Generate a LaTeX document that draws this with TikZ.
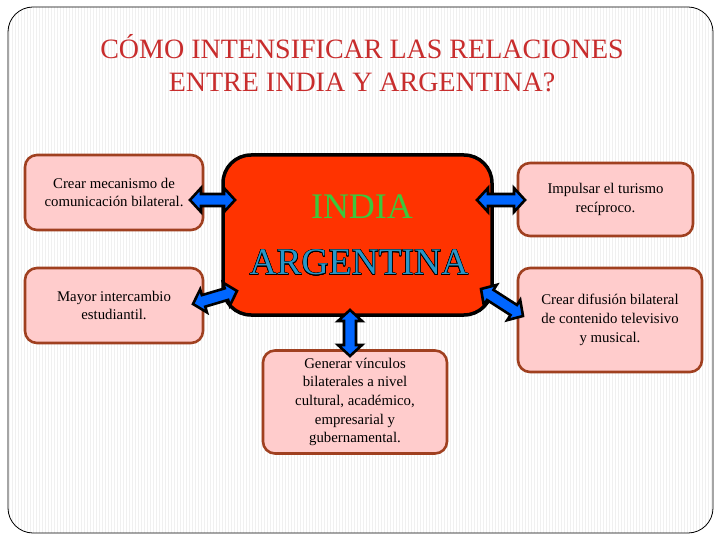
\documentclass[tikz,border=0pt]{standalone}
\usepackage{fontspec}
\setmainfont{Liberation Serif}
\usepackage{contour}
\contourlength{0.5pt}
\usetikzlibrary{calc}
\definecolor{titlered}{RGB}{200,45,45}
\definecolor{centerfill}{RGB}{255,51,0}
\definecolor{indiagreen}{RGB}{60,200,60}
\definecolor{argblue}{RGB}{40,150,200}
\definecolor{boxfill}{RGB}{255,204,204}
\definecolor{boxedge}{RGB}{160,64,32}
\definecolor{arrowblue}{RGB}{0,102,255}
\newcommand\blockarrow[2]{%
  \coordinate (t1) at ($(#1)!11pt!(#2)$);
  \coordinate (t2) at ($(#2)!11pt!(#1)$);
  \draw[blockarr] (#1) -- ($(t1)!12pt!90:(#2)$) -- ($(t1)!6pt!90:(#2)$)
    -- ($(t2)!6pt!-90:(#1)$) -- ($(t2)!12pt!-90:(#1)$) -- (#2)
    -- ($(t2)!12pt!90:(#1)$) -- ($(t2)!6pt!90:(#1)$)
    -- ($(t1)!6pt!-90:(#2)$) -- ($(t1)!12pt!-90:(#2)$) -- cycle;}
\tikzset{
  infobox/.style={draw=boxedge, line width=2.6pt, fill=boxfill, rounded corners=12pt,
    align=center, inner sep=1pt, font=\fontsize{14.8}{18.7}\selectfont},
  centerbox/.style={draw=black, line width=3.5pt, fill=centerfill, rounded corners=28pt},
  blockarr/.style={draw=black, line width=2.6pt, fill=arrowblue, line join=miter, miter limit=3},
  stripe/.style={black!6, line width=0.7pt}
}
\begin{document}
\begin{tikzpicture}[x=1pt,y=-1pt]
\useasboundingbox (0,0) rectangle (720,540);
\fill[white] (0,0) rectangle (720,540);
\begin{scope}
  \clip[rounded corners=25pt] (8,7) rectangle (713,533);
  \foreach \x in {9,12,...,712} \draw[stripe] (\x,7) -- (\x,533);
\end{scope}
\draw[black, line width=0.8pt, rounded corners=25pt] (8,7) rectangle (713,533);

\node[text=titlered, align=center, font=\fontsize{28}{33}\selectfont] (title) at (362,63)
  {CÓMO INTENSIFICAR LAS RELACIONES\\ENTRE INDIA Y ARGENTINA?};

\node[centerbox, minimum width=269pt, minimum height=160pt] (c) at (357.5,235) {};
\node[text=indiagreen, font=\fontsize{36}{40}\selectfont] (india) at (362,207) {INDIA};
\node[font=\fontsize{37.5}{40}\selectfont] (arg) at (359,263) {\contour{black}{\textcolor{argblue}{ARGENTINA}}};

\node[infobox, minimum width=178pt, minimum height=75pt] (b1) at (114,192.5)
  {Crear mecanismo de\\comunicación bilateral.};
\node[infobox, minimum width=178pt, minimum height=75pt] (b2) at (114,305.5)
  {Mayor intercambio\\estudiantil.};
\node[infobox, minimum width=175pt, minimum height=73pt] (b3) at (605.5,199.5)
  {Impulsar el turismo\\recíproco.};
\node[infobox, minimum width=184pt, minimum height=104pt] (b4) at (610,320)
  {Crear difusión bilateral\\de contenido televisivo\\y musical.};
\node[infobox, minimum width=184pt, minimum height=103pt] (b5) at (355,402)
  {Generar vínculos\\bilaterales a nivel\\cultural, académico,\\empresarial y\\gubernamental.};

\coordinate (a1s) at (190,200); \coordinate (a1e) at (235,200);
\coordinate (a2s) at (193,304); \coordinate (a2e) at (237,291);
\coordinate (a3s) at (477,200); \coordinate (a3e) at (525,200);
\coordinate (a4s) at (481,289); \coordinate (a4e) at (523,316);
\coordinate (a5s) at (350,310); \coordinate (a5e) at (350,356);
\blockarrow{a1s}{a1e}
\blockarrow{a2s}{a2e}
\blockarrow{a3s}{a3e}
\blockarrow{a4s}{a4e}
\blockarrow{a5s}{a5e}
\end{tikzpicture}
\end{document}
